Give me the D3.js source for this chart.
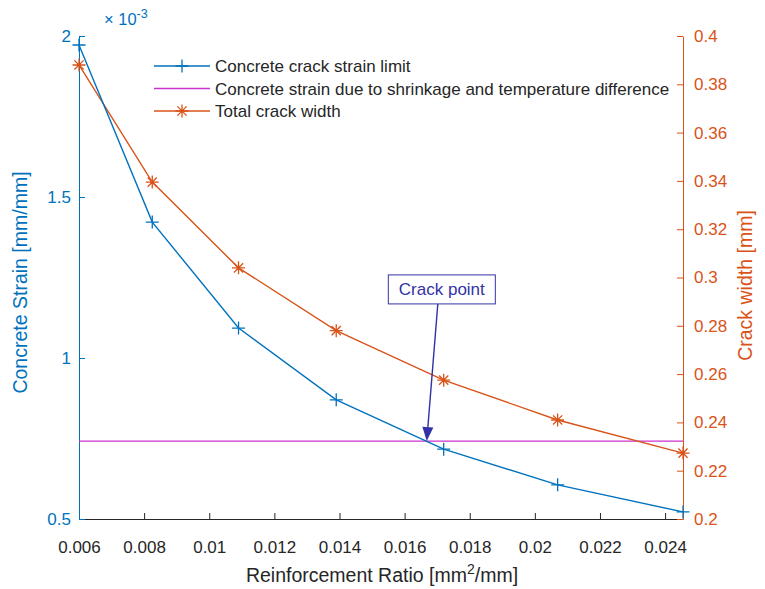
<!DOCTYPE html>
<html>
<head>
<meta charset="utf-8">
<script src="https://cdn.jsdelivr.net/npm/d3@7/dist/d3.min.js"></script>
<style>
  html, body { margin: 0; padding: 0; background: #fff; }
  svg { display: block; font-family: "Liberation Sans", Arial, Helvetica, sans-serif; }
</style>
</head>
<body>
<svg id="chart" width="765" height="589"></svg>
<script>
// Reinforcement ratio [mm^2/mm]
const ratio = [0.006, 0.00825, 0.0109, 0.0139, 0.0172, 0.0207, 0.02455];
// Concrete crack strain limit (x 10^-3 mm/mm)
const strainLimit = [1.972, 1.422, 1.093, 0.870, 0.717, 0.606, 0.522];
// Concrete strain due to shrinkage and temperature difference (x 10^-3 mm/mm)
const shrinkStrain = 0.742;
// Total crack width [mm]
const crackWidth = [0.388, 0.3395, 0.304, 0.278, 0.2575, 0.241, 0.2273];

const xTicks = [0.006, 0.008, 0.01, 0.012, 0.014, 0.016, 0.018, 0.02, 0.022, 0.024];
const yLeftTicks = [0.5, 1, 1.5, 2];
const yRightTicks = [0.2, 0.22, 0.24, 0.26, 0.28, 0.3, 0.32, 0.34, 0.36, 0.38, 0.4];

const seriesNames = [
  "Concrete crack strain limit",
  "Concrete strain due to shrinkage and temperature difference",
  "Total crack width"
];
// Crack point annotation: arrow head and tail (ratio, strain x10^-3)
const crackPoint = { label: "Crack point", head: [0.01668, 0.742], tail: [0.01702, 1.168] };

const blue = "#0072BD", orange = "#D95319", magenta = "#CC33CC", annot = "#3333A6", axisDark = "#262626";

const L = 79, R = 683, T = 36, B = 519;
const tickFont = 17, legendFont = 17, titleFont = 19.5;
const svg = d3.select("#chart");

const x = d3.scaleLinear().domain([0.006, 0.02455]).range([L, R]);
const yL = d3.scaleLinear().domain([0.5, 2]).range([B, T]);
const yR = d3.scaleLinear().domain([0.2, 0.4]).range([B, T]);

const fmt = d => String(+d.toFixed(4));

// Axes (ticks pointing inward)
const xAxis = svg.append("g").attr("transform", `translate(0,${B})`)
  .call(d3.axisBottom(x).tickValues(xTicks).tickFormat(fmt).tickSizeInner(-6).tickSizeOuter(0).tickPadding(22));
xAxis.select(".domain").attr("stroke", axisDark);
xAxis.selectAll(".tick line").attr("stroke", axisDark);
xAxis.selectAll("text").attr("fill", axisDark).attr("font-size", tickFont);

const yAxisL = svg.append("g").attr("transform", `translate(${L},0)`)
  .call(d3.axisLeft(yL).tickValues(yLeftTicks).tickFormat(fmt).tickSizeInner(-6).tickSizeOuter(0).tickPadding(8));
yAxisL.select(".domain").attr("stroke", blue);
yAxisL.selectAll(".tick line").attr("stroke", blue);
yAxisL.selectAll("text").attr("fill", blue).attr("font-size", tickFont);

const yAxisR = svg.append("g").attr("transform", `translate(${R},0)`)
  .call(d3.axisRight(yR).tickValues(yRightTicks).tickFormat(fmt).tickSizeInner(-6).tickSizeOuter(0).tickPadding(11));
yAxisR.select(".domain").attr("stroke", orange);
yAxisR.selectAll(".tick line").attr("stroke", orange);
yAxisR.selectAll("text").attr("fill", orange).attr("font-size", tickFont);

// Exponent label
const expo = svg.append("text").attr("x", 104).attr("y", 25).attr("fill", blue).attr("font-size", 16.5);
expo.append("tspan").text("\u00D7 10");
expo.append("tspan").attr("dy", -7).attr("font-size", 12.5).text("-3");

// Axis titles
const xt = svg.append("text").attr("x", (L + R) / 2 + 1).attr("y", 582).attr("text-anchor", "middle")
  .attr("fill", axisDark).attr("font-size", titleFont);
xt.append("tspan").text("Reinforcement Ratio [mm");
xt.append("tspan").attr("dy", -8).attr("font-size", 14).text("2");
xt.append("tspan").attr("dy", 8).text("/mm]");

svg.append("text").attr("transform", `translate(27,${(T + B) / 2 + 5}) rotate(-90)`)
  .attr("text-anchor", "middle").attr("fill", blue).attr("font-size", titleFont).text("Concrete Strain [mm/mm]");
svg.append("text").attr("transform", `translate(752,${(T + B) / 2 + 8}) rotate(-90)`)
  .attr("text-anchor", "middle").attr("fill", orange).attr("font-size", titleFont).text("Crack width [mm]");

// Shrinkage strain line
svg.append("line").attr("x1", x(0.006)).attr("x2", x(0.02455))
  .attr("y1", yL(shrinkStrain)).attr("y2", yL(shrinkStrain))
  .attr("stroke", magenta).attr("stroke-width", 1.4);

// Marker shapes
function plus(g, s) {
  g.append("path").attr("d", `M${-s},0H${s}M0,${-s}V${s}`);
}
function star(g, s) {
  const d = s * 0.7071;
  g.append("path").attr("d", `M${-s},0H${s}M0,${-s}V${s}M${-d},${-d}L${d},${d}M${-d},${d}L${d},${-d}`);
}

// Crack width line (right axis)
const lineR = d3.line().x((d, i) => x(ratio[i])).y(d => yR(d));
svg.append("path").datum(crackWidth).attr("d", lineR)
  .attr("fill", "none").attr("stroke", orange).attr("stroke-width", 1.4);
svg.append("g").selectAll("g").data(crackWidth).join("g")
  .attr("transform", (d, i) => `translate(${x(ratio[i])},${yR(d)})`)
  .attr("stroke", orange).attr("stroke-width", 1.3).attr("fill", "none")
  .each(function () { star(d3.select(this), 6.5); });

// Strain limit line (left axis)
const lineL = d3.line().x((d, i) => x(ratio[i])).y(d => yL(d));
svg.append("path").datum(strainLimit).attr("d", lineL)
  .attr("fill", "none").attr("stroke", blue).attr("stroke-width", 1.4);
svg.append("g").selectAll("g").data(strainLimit).join("g")
  .attr("transform", (d, i) => `translate(${x(ratio[i])},${yL(d)})`)
  .attr("stroke", blue).attr("stroke-width", 1.3).attr("fill", "none")
  .each(function () { plus(d3.select(this), 6.5); });

// Legend
const lg = svg.append("g").attr("transform", "translate(154,66)");
const rowH = 22.5;
seriesNames.forEach((name, i) => {
  const col = [blue, magenta, orange][i];
  const row = lg.append("g").attr("transform", `translate(0,${i * rowH})`);
  row.append("line").attr("x1", 0).attr("x2", 56).attr("y1", 0).attr("y2", 0)
    .attr("stroke", col).attr("stroke-width", 1.4);
  const m = row.append("g").attr("transform", "translate(28,0)")
    .attr("stroke", col).attr("stroke-width", 1.3).attr("fill", "none");
  if (i === 0) plus(m, 6.5);
  if (i === 2) star(m, 6.5);
  row.append("text").attr("x", 61).attr("y", 6).attr("fill", axisDark).attr("font-size", legendFont).text(name);
});

// Crack point annotation
const hx = x(crackPoint.head[0]), hy = yL(crackPoint.head[1]);
const tx = x(crackPoint.tail[0]), ty = yL(crackPoint.tail[1]);
const ang = Math.atan2(hy - ty, hx - tx);
const ah = 14, aw = 5.5;
const bx = hx - ah * Math.cos(ang), by = hy - ah * Math.sin(ang);
svg.append("line").attr("x1", tx).attr("y1", ty).attr("x2", bx).attr("y2", by)
  .attr("stroke", annot).attr("stroke-width", 1.4);
svg.append("path")
  .attr("d", `M${hx},${hy}L${bx - aw * Math.sin(ang)},${by + aw * Math.cos(ang)}L${bx + aw * Math.sin(ang)},${by - aw * Math.cos(ang)}Z`)
  .attr("fill", annot);
const boxW = 107, boxH = 29;
svg.append("rect").attr("x", tx - boxW / 2 + 4).attr("y", ty - boxH).attr("width", boxW).attr("height", boxH)
  .attr("fill", "#fff").attr("stroke", annot).attr("stroke-width", 1);
svg.append("text").attr("x", tx + 4).attr("y", ty - 9).attr("text-anchor", "middle")
  .attr("fill", annot).attr("font-size", 17).text(crackPoint.label);
</script>
</body>
</html>
